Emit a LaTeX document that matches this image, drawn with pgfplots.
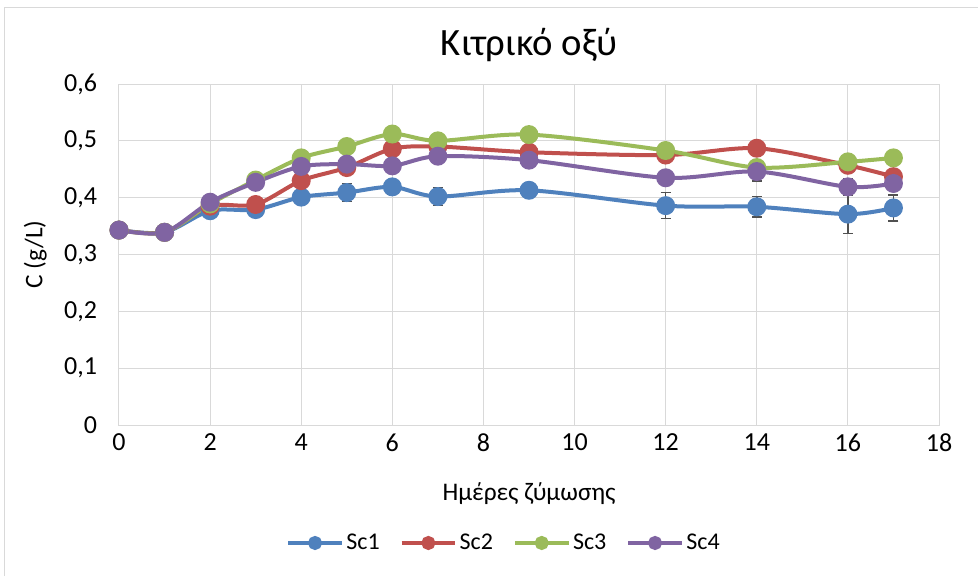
\documentclass[border=0pt]{standalone}
\usepackage{pgfplots}
\pgfplotsset{compat=1.18}
\usepackage{fontspec}
\setmainfont{Carlito}

\definecolor{scA}{HTML}{4F81BD}
\definecolor{scB}{HTML}{C0504D}
\definecolor{scC}{HTML}{9BBB59}
\definecolor{scD}{HTML}{8064A2}
\definecolor{errc}{HTML}{505050}
\definecolor{gridc}{HTML}{D9D9D9}

\begin{document}
\begin{tikzpicture}
\useasboundingbox (0,0) rectangle (733.5pt,432pt);
\draw[gray!30, line width=0.75pt] (3pt,0) -- (3pt,426.5pt) -- (733.5pt,426.5pt);
\begin{axis}[
    at={(89.25pt,113.25pt)}, anchor=south west,
    scale only axis,
    width=615pt, height=255.75pt,
    xmin=0, xmax=18, ymin=0, ymax=0.6,
    xtick={0,2,...,18},
    ytick={0,0.1,...,0.6},
    grid=major,
    major grid style={gridc, line width=0.75pt},
    axis line style={gridc, line width=0.75pt},
    major tick length=0pt,
    tick label style={font=\fontsize{19.5}{22}\selectfont, black},
    yticklabel style={/pgf/number format/fixed, /pgf/number format/precision=1,
        /pgf/number format/use comma, /pgf/number format/assume math mode=true, xshift=-13pt},
    xticklabel style={/pgf/number format/assume math mode=true, yshift=-3pt},
    title={Κιτρικό οξύ},
    title style={at={(axis description cs:0.5,1.09)}, anchor=center, font=\fontsize{29}{34}\selectfont},
    xlabel={Ημέρες ζύμωσης},
    xlabel style={at={(axis description cs:0.5,-0.202)}, anchor=center, font=\fontsize{19}{22}\selectfont},
    ylabel={C (g/L)},
    ylabel style={at={(axis description cs:-0.102,0.5)}, anchor=center, font=\fontsize{19}{22}\selectfont},
    legend columns=4,
    legend style={at={(axis description cs:0.47,-0.346)}, anchor=center, draw=none,
        font=\fontsize{18}{21}\selectfont,
        /tikz/every even column/.append style={column sep=13pt}},
    legend image code/.code={
        \draw[mark repeat=2, mark phase=2, #1, mark size=3.75pt]
        plot coordinates {(0pt,0pt) (20pt,0pt) (40pt,0pt)};},
    every axis plot/.append style={line width=3pt, smooth, mark size=5.6pt},
    error bars/error bar style={errc, line width=1.1pt},
    error bars/error mark options={rotate=90, errc, mark size=3.75pt, line width=1.1pt},
]
\addplot[scA, mark=*, mark options={solid, fill=scA, draw=scA}, error bars/.cd, y dir=both, y explicit]
coordinates {
 (0,0.343) +- (0,0.010)
 (1,0.339) +- (0,0.012)
 (2,0.377) +- (0,0.006)
 (3,0.379) +- (0,0.006)
 (4,0.401) +- (0,0.013)
 (5,0.409) +- (0,0.016)
 (6,0.419) +- (0,0.013)
 (7,0.402) +- (0,0.016)
 (9,0.413) +- (0,0.012)
 (12,0.386) +- (0,0.023)
 (14,0.384) +- (0,0.018)
 (16,0.371) +- (0,0.034)
 (17,0.382) +- (0,0.023)
};
\addlegendentry{Sc1}
\addplot[scB, mark=*, mark options={solid, fill=scB, draw=scB}]
coordinates {
 (0,0.343) (1,0.339) (2,0.385) (3,0.388) (4,0.430) (5,0.453) (6,0.486)
 (7,0.490) (9,0.480) (12,0.475) (14,0.487) (16,0.457) (17,0.437)
};
\addlegendentry{Sc2}
\addplot[scC, mark=*, mark options={solid, fill=scC, draw=scC}, error bars/.cd, y dir=both, y explicit]
coordinates {
 (0,0.343) +- (0,0)
 (1,0.339) +- (0,0)
 (2,0.389) +- (0,0)
 (3,0.431) +- (0,0)
 (4,0.470) +- (0,0)
 (5,0.490) +- (0,0)
 (6,0.512) +- (0,0)
 (7,0.500) +- (0,0)
 (9,0.511) +- (0,0)
 (12,0.483) +- (0,0)
 (14,0.453) +- (0,0.012)
 (16,0.463) +- (0,0)
 (17,0.470) +- (0,0)
};
\addlegendentry{Sc3}
\addplot[scD, mark=*, mark options={solid, fill=scD, draw=scD}, error bars/.cd, y dir=both, y explicit]
coordinates {
 (0,0.343) +- (0,0)
 (1,0.339) +- (0,0)
 (2,0.392) +- (0,0)
 (3,0.427) +- (0,0)
 (4,0.455) +- (0,0)
 (5,0.459) +- (0,0)
 (6,0.456) +- (0,0.011)
 (7,0.473) +- (0,0)
 (9,0.466) +- (0,0)
 (12,0.435) +- (0,0)
 (14,0.446) +- (0,0.017)
 (16,0.419) +- (0,0.015)
 (17,0.425) +- (0,0.010)
};
\addlegendentry{Sc4}
\end{axis}
\end{tikzpicture}
\end{document}
